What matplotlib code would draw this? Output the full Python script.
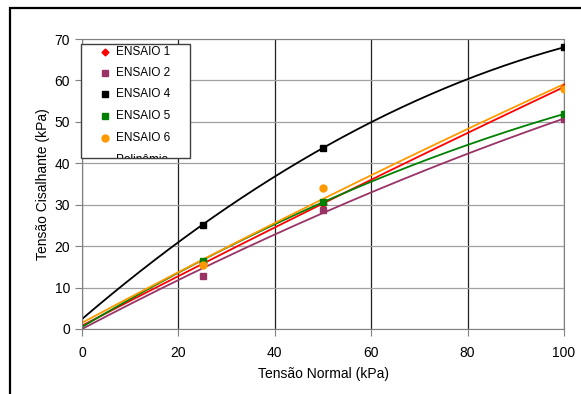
import numpy as np
import matplotlib
matplotlib.use("Agg")
import matplotlib.pyplot as plt
from matplotlib.patches import Rectangle
from matplotlib.lines import Line2D

plt.rcParams['font.family'] = ['Liberation Sans', 'DejaVu Sans']

# pontos dos ensaios
tensao_normal = [25, 50, 100]
ensaio1 = [16.0, 30.2, 58.4]
ensaio2 = [12.8, 28.7, 50.7]
ensaio4 = [25.1, 43.7, 68.0]
ensaio5 = [16.5, 30.6, 51.9]
ensaio6 = [15.5, 34.0, 57.9]

# linhas de tendencia (polinomio) lidas em x = 0, 50, 100
x_tend = [0, 50, 100]
tend1 = [0.8, 30.3, 58.4]
tend2 = [0.0, 28.0, 50.8]
tend4 = [2.4, 43.7, 68.0]
tend5 = [0.5, 30.6, 51.9]
tend6 = [1.5, 31.4, 59.1]

series = [
    ("ENSAIO 1", ensaio1, tend1, "#FF0000", "D", 3.5),
    ("ENSAIO 2", ensaio2, tend2, "#993366", "s", 5),
    ("ENSAIO 4", ensaio4, tend4, "#000000", "s", 5),
    ("ENSAIO 5", ensaio5, tend5, "#008000", "s", 5),
    ("ENSAIO 6", ensaio6, tend6, "#FF9900", "o", 5),
]

W, H = 581, 394
fig = plt.figure(figsize=(W/100, H/100), dpi=100)
ax = fig.add_axes([82/W, 1-329/H, 482/W, 290/H])

xs = np.linspace(0, 100, 200)
for nome, y, t, cor, mk, ms in series:
    p = np.poly1d(np.polyfit(x_tend, t, 2))
    ax.plot(xs, p(xs), color=cor, lw=1.3, zorder=2)
for nome, y, t, cor, mk, ms in series:
    ax.plot(tensao_normal, y, linestyle='none', marker=mk, ms=ms,
            color=cor, zorder=3)

ax.set_xlim(0, 100)
ax.set_ylim(0, 70)
ax.set_xticks(range(0, 101, 20))
ax.set_yticks(range(0, 71, 10))
ax.tick_params(direction='out', length=5, color='#808080', labelsize=10)
ax.tick_params(axis='x', pad=7)
for s in ax.spines.values():
    s.set_color('#808080')
ax.grid(axis='x', color='#202020', lw=0.9)
ax.grid(axis='y', color='#a0a0a0', lw=0.9)
ax.set_axisbelow(True)
ax.set_xlabel("Tensão Normal (kPa)", fontsize=10, labelpad=5)
ax.set_ylabel("Tensão Cisalhante (kPa)", fontsize=10, labelpad=3)

# legenda (caixa corta a ultima entrada, como no original)
caixa = Rectangle((81/W, 1-158/H), 109/W, 114/H, transform=fig.transFigure,
                  facecolor='white', edgecolor='#404040', lw=1.0, zorder=5)
fig.patches.append(caixa)
linhas_y = [52, 73, 94, 116, 138]
for (nome, y, t, cor, mk, ms), yy in zip(series, linhas_y):
    fig.add_artist(Line2D([105/W], [1-yy/H], marker=mk, ms=ms, color=cor,
                          linestyle='none', transform=fig.transFigure, zorder=6))
    fig.text(116/W, 1-yy/H, nome, fontsize=8.5, va='center', zorder=6)
poli = fig.text(116/W, 1-160/H, "Polinômio", fontsize=8.5, va='center', zorder=6)
poli.set_clip_path(caixa)

fig.patches.append(Rectangle((10/W, -0.1), 1.2, 1-8/H+0.1,
                             transform=fig.transFigure, fill=False,
                             edgecolor='black', lw=1.6))

fig.savefig("out.png", dpi=100)
